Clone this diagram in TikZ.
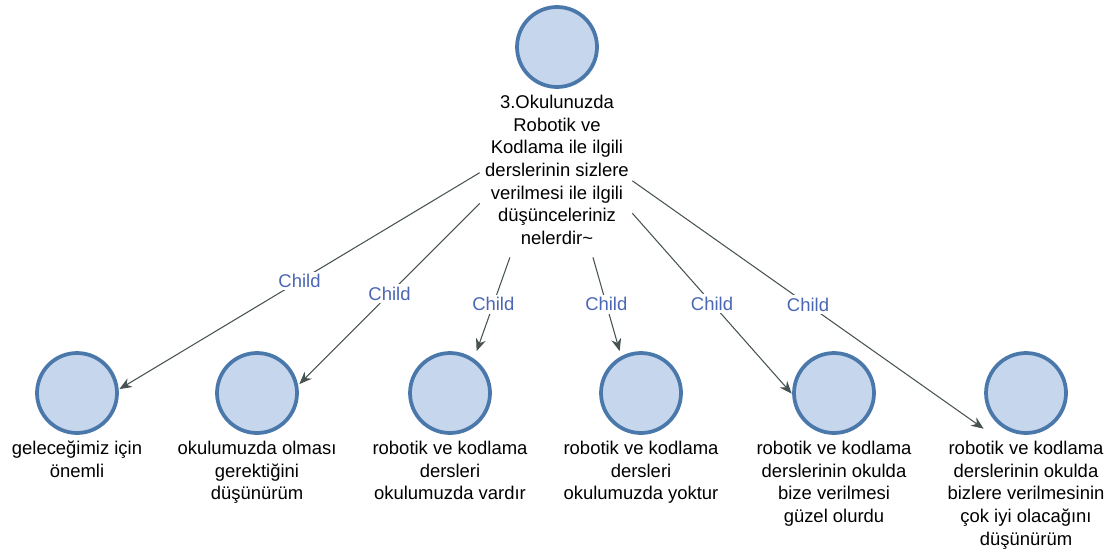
\documentclass[tikz,border=0pt]{standalone}
\usepackage{fontspec}
\setmainfont{Liberation Sans}
\usetikzlibrary{arrows.meta, positioning}

\definecolor{ringblue}{HTML}{4A78AA}
\definecolor{discfill}{HTML}{C6D6EC}
\definecolor{childblue}{HTML}{4A66B4}
\definecolor{linkgray}{HTML}{475252}

\begin{document}
\begin{tikzpicture}[
    x=0.02cm, y=-0.02cm,
    node distance=0.12cm,
    disc/.style={
        circle,
        draw=ringblue,
        fill=discfill,
        line width=0.075cm,
        minimum size=1.6cm,
        inner sep=0pt
    },
    caption/.style={
        align=center,
        inner sep=0pt,
        font=\fontsize{10.5}{12.9}\selectfont
    },
    grp/.style={
        rectangle,
        inner sep=0pt,
        minimum width=1.68cm,
        minimum height=#1
    },
    link/.style={-{Stealth[length=2.5mm, width=2mm]}, draw=linkgray, line width=0.6pt},
    childtag/.style={fill=white, inner sep=1.5pt, text=childblue, font=\fontsize{10.5}{12.9}\selectfont}
]
\useasboundingbox (0,0) rectangle (1114,555);

% question
\node[disc] (dot0) at (557,47) {};
\node[caption, below=of dot0] (txt0) {3.Okulunuzda\\Robotik ve\\Kodlama ile ilgili\\derslerinin sizlere\\verilmesi ile ilgili\\düşünceleriniz\\nelerdir\textasciitilde};
\node[grp=5.2cm, minimum width=3.04cm] (hub) at (556,127) {};

% answers
\node[disc] (dot1) at (77,393) {};
\node[disc] (dot2) at (257,393) {};
\node[disc] (dot3) at (450,393) {};
\node[disc] (dot4) at (641,393) {};
\node[disc] (dot5) at (834,393) {};
\node[disc] (dot6) at (1026,393) {};

\node[caption, below=of dot1] (txt1) {geleceğimiz için\\önemli};
\node[caption, below=of dot2] (txt2) {okulumuzda olması\\gerektiğini\\düşünürüm};
\node[caption, below=of dot3] (txt3) {robotik ve kodlama\\dersleri\\okulumuzda vardır};
\node[caption, below=of dot4] (txt4) {robotik ve kodlama\\dersleri\\okulumuzda yoktur};
\node[caption, below=of dot5] (txt5) {robotik ve kodlama\\derslerinin okulda\\bize verilmesi\\güzel olurdu};
\node[caption, below=of dot6] (txt6) {robotik ve kodlama\\derslerinin okulda\\bizlere verilmesinin\\çok iyi olacağını\\düşünürüm};

\node[grp=2.52cm, anchor=north] (ans1) at (dot1.north) {};
\node[grp=3.0cm, anchor=north] (ans2) at (dot2.north) {};
\node[grp=3.0cm, anchor=north] (ans3) at (dot3.north) {};
\node[grp=3.0cm, anchor=north] (ans4) at (dot4.north) {};
\node[grp=3.6cm, anchor=north] (ans5) at (dot5.north) {};
\node[grp=4.28cm, anchor=north] (ans6) at (dot6.north) {};

\draw[link] (hub) -- node[childtag] {Child} (ans1);
\draw[link] (hub) -- node[childtag] {Child} (ans2);
\draw[link] (hub) -- node[childtag] {Child} (ans3);
\draw[link] (hub) -- node[childtag] {Child} (ans4);
\draw[link] (hub) -- node[childtag] {Child} (ans5);
\draw[link] (hub) -- node[childtag] {Child} (ans6);

\end{tikzpicture}
\end{document}
